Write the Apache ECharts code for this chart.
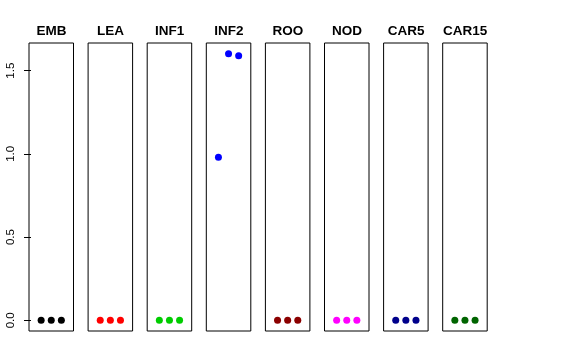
<!DOCTYPE html>
<html><head><meta charset="utf-8">
<script src="https://cdn.jsdelivr.net/npm/echarts@6/dist/echarts.min.js"></script>
<style>html,body{margin:0;padding:0;background:#fff}#c{width:576px;height:360px}</style>
</head><body><div id="c"></div>
<script>
const categories = ['EMB','LEA','INF1','INF2','ROO','NOD','CAR5','CAR15'];
const colors = ['#000000','#ff0000','#00cd00','#0000ff','#8b0000','#ff00ff','#00008b','#006400'];
const valuesEMB = [0, 0, 0];
const valuesLEA = [0, 0, 0];
const valuesINF1 = [0, 0, 0];
const valuesINF2 = [0.98, 1.602, 1.59];
const valuesROO = [0, 0, 0];
const valuesNOD = [0, 0, 0];
const valuesCAR5 = [0, 0, 0];
const valuesCAR15 = [0, 0, 0];
const allValues = [valuesEMB, valuesLEA, valuesINF1, valuesINF2, valuesROO, valuesNOD, valuesCAR5, valuesCAR15];
const yTicks = [0, 0.5, 1.0, 1.5];

const font = 'Liberation Sans, Arial, sans-serif';
const grids = [], xAxes = [], yAxes = [], series = [], texts = [];
categories.forEach((name, i) => {
  const left = 29 + i * 59.1;
  grids.push({left: left, top: 43, width: 44.5, height: 288, show: true, borderColor: '#000', borderWidth: 1, backgroundColor: 'transparent'});
  xAxes.push({gridIndex: i, type: 'value', min: -0.2, max: 4.2, show: false});
  yAxes.push({gridIndex: i, type: 'value', min: -0.064, max: 1.666,
    show: i === 0, splitLine: {show: false},
    axisLine: {show: false},
    axisTick: {show: true, length: 7, lineStyle: {color: '#000'}, customValues: yTicks},
    axisLabel: {show: true, rotate: 90, color: '#000', fontSize: 11.5, fontFamily: font, margin: 12,
      customValues: yTicks, formatter: v => v.toFixed(1)}
  });
  series.push({type: 'scatter', xAxisIndex: i, yAxisIndex: i, symbolSize: 7,
    itemStyle: {color: colors[i], opacity: 1}, silent: true,
    data: allValues[i].map((v, j) => [j + 1, v])});
  texts.push({type: 'text', x: left + 22.5, y: 31.5,
    style: {text: name, textAlign: 'center', textVerticalAlign: 'middle', fill: '#000',
      font: 'bold 13.5px ' + font}});
});
const chart = echarts.init(document.getElementById('c'), null, {renderer: 'canvas'});
chart.setOption({animation: false, graphic: texts, grid: grids, xAxis: xAxes, yAxis: yAxes, series: series});
</script></body></html>
